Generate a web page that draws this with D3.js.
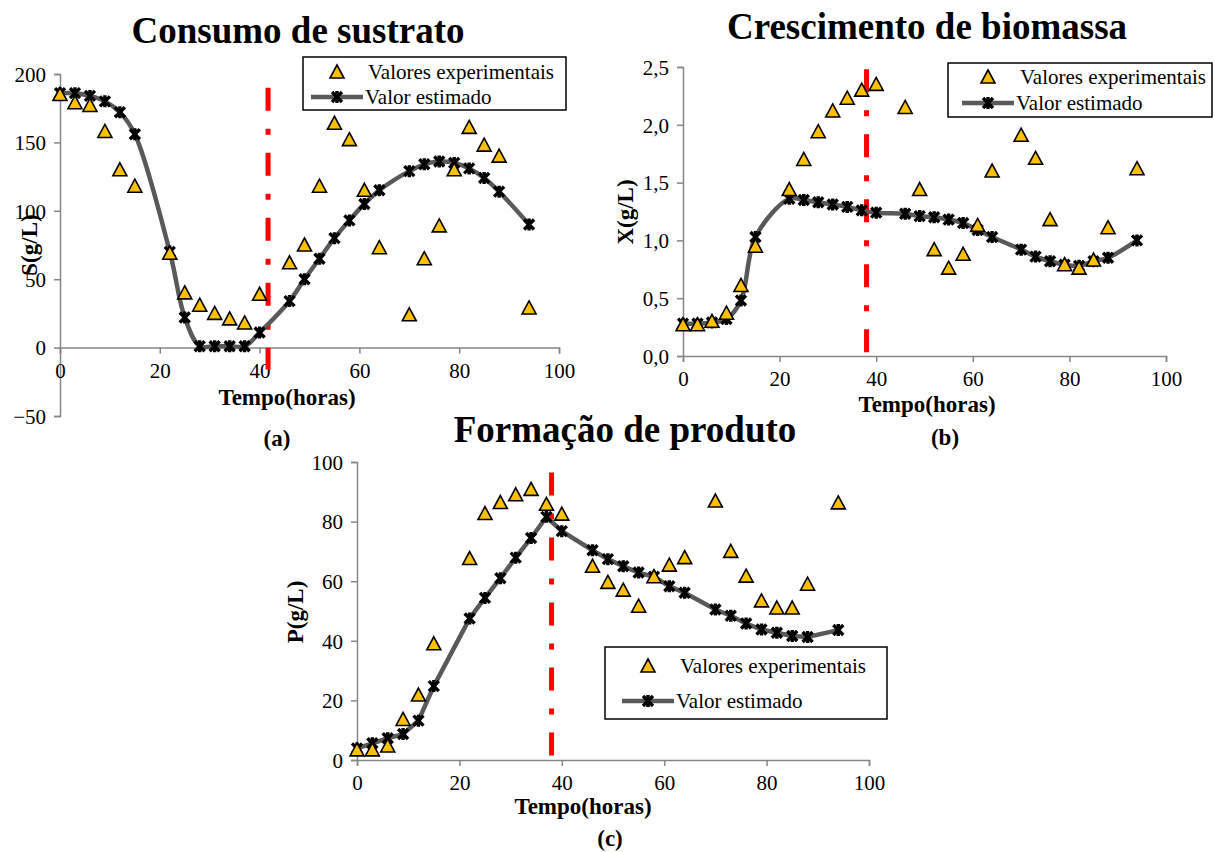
<!DOCTYPE html>
<html>
<head>
<meta charset="utf-8">
<script src="https://cdn.jsdelivr.net/npm/d3@7"></script>
<style>
  body { margin: 0; background: #fff; }
</style>
</head>
<body>
<svg id="chart" width="1215" height="852"></svg>
<script>
// time points (hours), shared by all three panels
var horas = [0,3,6,9,12,15,22,25,28,31,34,37,40,46,49,52,55,58,61,64,70,73,76,79,82,85,88,94];

// (a) substrate
var sExp = [185,179,177,158,130,118,69,40,31,25,21,18,39,62,75,118,164,152,115,73,24,65,89,130,161,148,140,29];
var sEst = [186,186,184,180,172,156,70,22,1,1,1,1,11,34,50,65,80,93,105,115,129,134,136,135,131,124,114,90];

// (b) biomass
var xExp = [0.27,0.27,0.30,0.37,0.61,0.95,1.44,1.70,1.94,2.12,2.23,2.30,2.35,2.15,1.44,0.92,0.76,0.88,1.13,1.60,1.91,1.71,1.18,0.79,0.76,0.83,1.11,1.62];
var xEst = [0.28,0.28,0.29,0.32,0.48,1.03,1.36,1.35,1.33,1.31,1.29,1.26,1.24,1.23,1.21,1.20,1.18,1.15,1.09,1.03,0.92,0.86,0.82,0.79,0.78,0.82,0.85,1.00];

// (c) product
var pExp = [3.4,3.4,4.7,13.6,21.8,39,67.6,82.7,86.4,89,90.8,85.8,82.5,65,59.6,57,51.6,61.5,65.4,67.9,86.9,70,61.7,53.4,51,51,59,86.3];
var pEst = [3.9,5.6,7.3,8.7,13.2,24.8,47.5,54.4,61,67.9,74.5,81.6,76.8,70.4,67.4,65,62.9,61.5,58.3,56.1,50.5,48.4,45.8,43.8,42.7,41.6,41.3,43.6];

var xTicks = [0,20,40,60,80,100];
var legendNames = ["Valores experimentais", "Valor estimado"];

var FONT = "'Times New Roman', 'Liberation Serif', 'DejaVu Serif', serif";
var svg = d3.select("#chart");
var axisColor = "#868686";
var triPath = "M0,-7L7,6L-7,6Z";
var starPath = "M-5,-5L5,5M5,-5L-5,5M0,-6L0,6";

function comma(d) { return d3.format(".1f")(d).replace(".", ","); }

function label(g, txt, x, y, size, bold) {
  return g.append("text").attr("x", x).attr("y", y)
    .attr("text-anchor", "middle")
    .style("font-family", FONT).style("font-size", size + "px")
    .style("font-weight", bold ? "bold" : "normal")
    .text(txt);
}

function makePanel(p) {
  var x = d3.scaleLinear().domain([0, 100]).range(p.xr);
  var y = d3.scaleLinear().domain(p.yd).range(p.yr);
  var g = svg.append("g");

  // Y axis
  var ya = g.append("g")
    .attr("transform", "translate(" + x(0) + ",0)")
    .call(d3.axisLeft(y).tickValues(p.yTicks).tickFormat(p.fmt).tickSizeOuter(0).tickSize(6).tickPadding(8));
  // X axis, sitting on y = 0
  var xa = g.append("g")
    .attr("transform", "translate(0," + y(0) + ")")
    .call(d3.axisBottom(x).tickValues(xTicks).tickSizeOuter(0).tickSize(6).tickPadding(9));
  [ya, xa].forEach(function(a) {
    a.attr("font-family", null).attr("font-size", null);
    a.selectAll("path, line").attr("stroke", axisColor).attr("stroke-width", 1.5);
    a.selectAll("text").style("font-size", "21px").style("font-family", FONT).attr("fill", "#000");
  });
  ya.selectAll("text").attr("dy", "0.35em");

  // red dash-dot marker line
  g.append("line")
    .attr("x1", x(p.cut)).attr("x2", x(p.cut))
    .attr("y1", y(p.cutTop)).attr("y2", y(p.cutBot))
    .attr("stroke", "#ff0000").attr("stroke-width", 5)
    .attr("stroke-dasharray", "23,18,6,18");

  // estimated line + star markers
  var pts = horas.map(function(h, i) { return [h, p.est[i]]; });
  var line = d3.line()
    .x(function(d) { return x(d[0]); })
    .y(function(d) { return y(d[1]); })
    .curve(p.curve);
  g.append("path").datum(pts)
    .attr("d", line)
    .attr("fill", "none").attr("stroke", "#595959").attr("stroke-width", 4.5);
  g.selectAll(".est").data(pts).enter().append("path")
    .attr("transform", function(d) { return "translate(" + x(d[0]) + "," + y(d[1]) + ")"; })
    .attr("d", starPath)
    .attr("stroke", "#000").attr("stroke-width", 3.4).attr("fill", "none");

  // experimental triangles
  g.selectAll(".exp").data(horas).enter().append("path")
    .attr("transform", function(h, i) { return "translate(" + x(h) + "," + y(p.exp[i]) + ")"; })
    .attr("d", triPath)
    .attr("fill", "#ffc000").attr("stroke", "#000").attr("stroke-width", 1.6);

  // titles and labels
  label(g, p.title[0], p.title[1], p.title[2], 37, true);
  label(g, "Tempo(horas)", p.xlab[0], p.xlab[1], 23, true);
  label(g, p.tag[0], p.tag[1], p.tag[2], 23, true);
  label(g, p.ylab[0], 0, 0, 23, true)
    .attr("transform", "translate(" + p.ylab[1] + "," + p.ylab[2] + ") rotate(-90)");

  // legend
  var L = p.legend;
  g.append("rect").attr("x", L.x).attr("y", L.y).attr("width", L.w).attr("height", L.h)
    .attr("fill", "#fff").attr("stroke", "#000").attr("stroke-width", 1.5);
  g.append("path").attr("transform", "translate(" + (L.x + L.sym) + "," + L.r1 + ")")
    .attr("d", triPath).attr("fill", "#ffc000").attr("stroke", "#000").attr("stroke-width", 1.6);
  g.append("line").attr("x1", L.x + L.sym - 26).attr("x2", L.x + L.sym + 26)
    .attr("y1", L.r2).attr("y2", L.r2).attr("stroke", "#595959").attr("stroke-width", 4.5);
  g.append("path").attr("transform", "translate(" + (L.x + L.sym) + "," + L.r2 + ")")
    .attr("d", starPath).attr("stroke", "#000").attr("stroke-width", 3.4);
  g.selectAll(".lt").data(legendNames).enter().append("text")
    .attr("x", function(d, i) { return L.x + (i == 0 ? L.tx : L.sym + 28); })
    .attr("y", function(d, i) { return (i == 0 ? L.r1 : L.r2) + 7; })
    .style("font-family", FONT).style("font-size", "21px")
    .text(function(d) { return d; });
}

makePanel({
  xr: [60, 559], yd: [-50, 200], yr: [416, 74],
  yTicks: [-50,0,50,100,150,200], fmt: d3.format("d"),
  exp: sExp, est: sEst, curve: d3.curveCatmullRom,
  cut: 41.7, cutTop: 190, cutBot: -16,
  title: ["Consumo de sustrato", 298, 43],
  xlab: [287, 405], tag: ["(a)", 277, 446], ylab: ["S(g/L)", 37, 245],
  legend: {x: 303, y: 57, w: 263, h: 53, sym: 34, tx: 65, r1: 72, r2: 97}
});

makePanel({
  xr: [683, 1166], yd: [0, 2.5], yr: [356, 67],
  yTicks: [0,0.5,1,1.5,2,2.5], fmt: comma,
  exp: xExp, est: xEst, curve: d3.curveCatmullRom,
  cut: 38, cutTop: 2.48, cutBot: 0,
  title: ["Crescimento de biomassa", 927, 39],
  xlab: [927, 412], tag: ["(b)", 945, 445], ylab: ["X(g/L)", 633, 212],
  legend: {x: 948, y: 63, w: 264, h: 54, sym: 40, tx: 72, r1: 77, r2: 103}
});

makePanel({
  xr: [357, 869], yd: [0, 100], yr: [760, 462],
  yTicks: [0,20,40,60,80,100], fmt: d3.format("d"),
  exp: pExp, est: pEst, curve: d3.curveLinear,
  cut: 38, cutTop: 96.5, cutBot: 0,
  title: ["Formação de produto", 625, 442],
  xlab: [583, 814], tag: ["(c)", 610, 846], ylab: ["P(g/L)", 303, 612],
  legend: {x: 605, y: 647, w: 282, h: 72, sym: 43, tx: 75, r1: 666, r2: 701}
});
</script>
</body>
</html>
